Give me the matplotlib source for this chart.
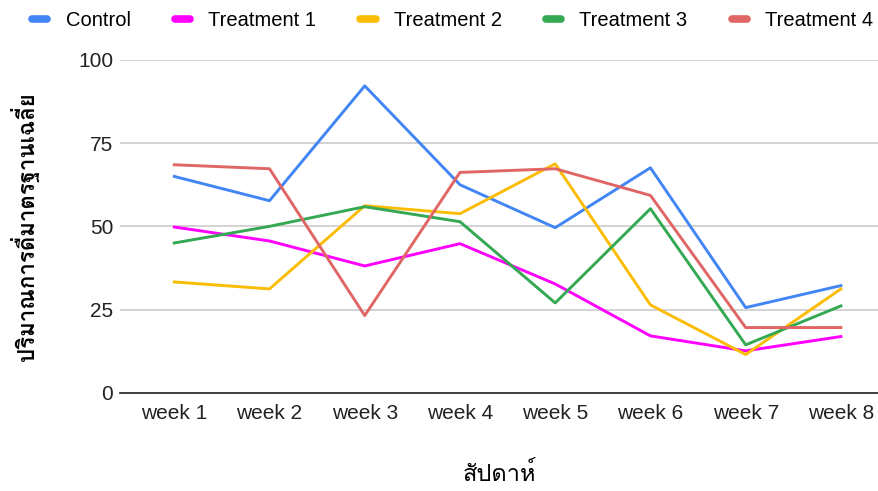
import numpy as np
import matplotlib
matplotlib.use("Agg")
import matplotlib.pyplot as plt
from matplotlib import font_manager
from matplotlib.ft2font import FT2Font
from matplotlib.lines import Line2D

# data
weeks = ["week 1", "week 2", "week 3", "week 4", "week 5", "week 6", "week 7", "week 8"]
control = [65.0, 57.7, 92.2, 62.5, 49.6, 67.6, 25.6, 32.2]
treatment_1 = [49.8, 45.6, 38.1, 44.8, 32.7, 17.1, 12.6, 16.9]
treatment_2 = [33.3, 31.2, 56.2, 53.8, 68.8, 26.4, 11.5, 31.2]
treatment_3 = [45.0, 50.0, 55.9, 51.4, 27.0, 55.3, 14.4, 26.1]
treatment_4 = [68.5, 67.3, 23.2, 66.2, 67.3, 59.3, 19.6, 19.6]
series_names = ["Control", "Treatment 1", "Treatment 2", "Treatment 3", "Treatment 4"]
y_ticks = [0, 25, 50, 75, 100]
x_title = "สัปดาห์"
y_title = "ปริมาณการดื่มาตรฐานเฉลี่ย"

colors = ["#4285F4", "#FF00FF", "#FBBC04", "#34A853", "#E06666"]

# find a font that has Thai glyphs
thai_font = None
for f in font_manager.fontManager.ttflist:
    try:
        if 0x0E2A in FT2Font(f.fname).get_charmap():
            thai_font = f.name
            break
    except Exception:
        pass

families = ["Liberation Sans", "DejaVu Sans"]
if thai_font:
    families.append(thai_font)
plt.rcParams["font.family"] = families

fig = plt.figure(figsize=(8.79, 4.91), dpi=100)
ax = fig.add_axes([0.1365, 0.2, 0.8635, 0.678])

x = np.arange(len(weeks))
all_series = [control, treatment_1, treatment_2, treatment_3, treatment_4]
for vals, name, c in zip(all_series, series_names, colors):
    ax.plot(x, vals, color=c, lw=2.1, label=name)

ax.set_xlim(-0.57, 7.4)
ax.set_ylim(0, 100)
ax.set_yticks(y_ticks)
ax.set_xticks(x)
ax.set_xticklabels(weeks)
ax.tick_params(length=0, labelsize=15, colors="#222222", pad=8)
ax.tick_params(axis="y", pad=5)
ax.grid(axis="y", color="#cccccc", lw=1.2)
ax.set_axisbelow(True)
for s in ["top", "right", "left"]:
    ax.spines[s].set_visible(False)
ax.spines["bottom"].set_color("#333333")
ax.spines["bottom"].set_linewidth(1.3)

ax.set_xlabel(x_title, fontsize=17, labelpad=28)
ax.set_ylabel(y_title, fontsize=16, fontweight="bold", labelpad=28)

handles = [Line2D([0], [0], color=c, lw=5.5, solid_capstyle="round") for c in colors]
fig.legend(handles, series_names, loc="upper center", bbox_to_anchor=(0.515, 1.015),
           ncol=5, frameon=False, fontsize=14.5, handlelength=0.75,
           handletextpad=0.9, columnspacing=2.2)

fig.savefig("out.png", dpi=100)
